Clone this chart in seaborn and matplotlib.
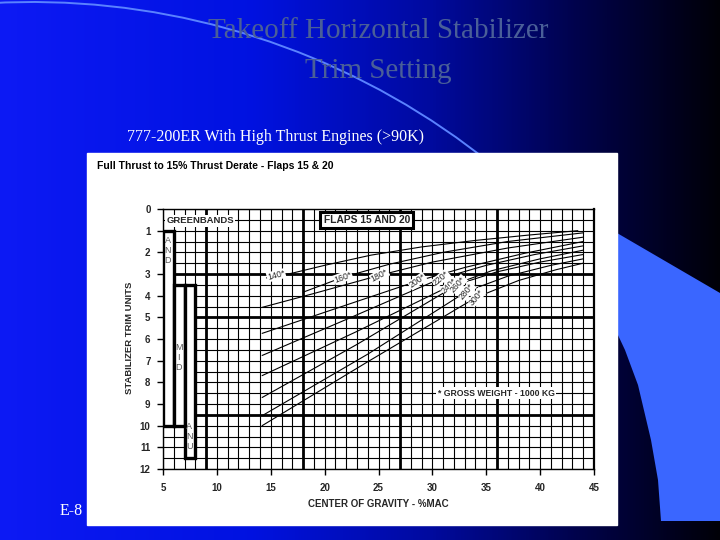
import numpy as np
import pandas as pd
import matplotlib
matplotlib.use("Agg")
import matplotlib.pyplot as plt
import seaborn as sns
from matplotlib.patches import Rectangle, Polygon, Arc
from matplotlib.colors import LinearSegmentedColormap

# ---------------- data ----------------
weights = [140, 160, 180, 200, 220, 240, 260, 280, 300]
cg_140 = [14.6, 17.0, 20.0, 24.3, 29.0, 34.0, 39.0, 43.5]
tr_140 = [3.18, 2.96, 2.60, 2.13, 1.75, 1.45, 1.20, 1.00]
cg_160 = [18.0, 21.7, 26.0, 31.0, 37.0, 44.0]
tr_160 = [3.84, 3.15, 2.55, 2.00, 1.50, 1.10]
cg_180 = [14.2, 19.0, 25.1, 30.0, 37.0, 44.0]
tr_180 = [4.54, 3.90, 3.06, 2.45, 1.80, 1.30]
cg_200 = [14.2, 21.0, 28.6, 33.0, 38.5, 44.0]
tr_200 = [5.74, 4.60, 3.33, 2.70, 2.05, 1.50]
cg_220 = [14.2, 22.0, 30.8, 35.0, 39.5, 44.0]
tr_220 = [6.76, 5.10, 3.20, 2.60, 2.10, 1.70]
cg_240 = [14.2, 23.0, 31.6, 35.5, 40.0, 44.0]
tr_240 = [7.69, 5.65, 3.56, 2.85, 2.30, 1.90]
cg_260 = [14.2, 23.0, 32.4, 36.0, 40.0, 44.0]
tr_260 = [8.70, 6.25, 3.47, 2.90, 2.45, 2.10]
cg_280 = [14.2, 24.0, 33.2, 37.0, 41.0, 44.0]
tr_280 = [9.54, 6.70, 3.80, 3.10, 2.60, 2.30]
cg_300 = [14.2, 24.0, 34.1, 38.0, 41.5, 44.0]
tr_300 = [10.00, 7.05, 4.07, 3.30, 2.80, 2.50]

label_x = [15.5, 21.7, 25.1, 28.6, 30.8, 31.6, 32.4, 33.2, 34.1]
label_y = [3.06, 3.15, 3.06, 3.33, 3.20, 3.56, 3.47, 3.80, 4.07]
label_rot = [15, 20, 28, 35, 40, 45, 48, 50, 50]
label_txt = ["140*", "160*", "180*", "200*", "220*", "240*", "260*", "280*", "300*"]

x_ticks = [5, 10, 15, 20, 25, 30, 35, 40, 45]
y_ticks = list(range(0, 13))
thick_x = [9, 18, 27, 36]
thick_y = [3, 5, 9.5]

band_names = ["AND", "MID", "ANU"]
band_x = [5, 6, 7]
band_top = [1.0, 3.5, 3.5]
band_bot = [10.0, 10.0, 11.5]
band_letter_y = [1.45, 6.4, 10.05]

cgs = [cg_140, cg_160, cg_180, cg_200, cg_220, cg_240, cg_260, cg_280, cg_300]
trs = [tr_140, tr_160, tr_180, tr_200, tr_220, tr_240, tr_260, tr_280, tr_300]
df = pd.concat([pd.DataFrame({"cg": c, "trim": t, "weight": w})
                for c, t, w in zip(cgs, trs, weights)], ignore_index=True)

# ---------------- style ----------------
sns.set_theme(style="white")
plt.rcParams["font.family"] = ["Liberation Sans", "DejaVu Sans"]
SANS = ["Liberation Sans", "DejaVu Sans"]
SERIF = ["Liberation Serif", "DejaVu Serif"]

fig = plt.figure(figsize=(7.2, 5.4), dpi=100)

# background slide
bg = fig.add_axes([0, 0, 1, 1])
bg.set_xlim(0, 720)
bg.set_ylim(540, 0)
bg.axis("off")
cmap = LinearSegmentedColormap.from_list("slide", [
    (0.00, (0.05, 0.10, 0.96)),
    (0.35, (0.00, 0.07, 0.88)),
    (0.60, (0.00, 0.04, 0.62)),
    (0.80, (0.00, 0.01, 0.30)),
    (1.00, (0.00, 0.00, 0.03)),
])
grad = np.linspace(0, 1, 512).reshape(1, -1)
bg.imshow(grad, cmap=cmap, extent=(0, 720, 540, 0), aspect="auto", zorder=0)
# thin light arc
bg.add_patch(Arc((32, 734), 1464, 1464, theta1=255, theta2=330, color="#5a82ff", lw=1.4, zorder=1))
# light-blue shape at right
bg.add_patch(Polygon([(617, 233), (720, 293), (720, 521), (661, 521), (658, 480), (651, 440),
                      (638, 385), (625, 350), (617, 333)], closed=True, color="#3a66ff", lw=0, zorder=1))
# white chart panel
bg.add_patch(Rectangle((87, 153), 530, 372, color="white", zorder=2))

bg.text(378, 31, "Takeoff Horizontal Stabilizer", family=SERIF, fontsize=21, color="#4a5f98",
        ha="center", va="center", zorder=3)
bg.text(378, 71, "Trim Setting", family=SERIF, fontsize=21, color="#4a5f98",
        ha="center", va="center", zorder=3)
bg.text(127, 137, "777-200ER With High Thrust Engines (>90K)", family=SERIF, fontsize=11.5,
        color="white", ha="left", va="center", zorder=3)
bg.text(60, 511, "E-8", family=SERIF, fontsize=11.5, color="white", ha="left", va="center", zorder=3)
bg.text(97, 166, "Full Thrust to 15% Thrust Derate - Flaps 15 & 20", family=SANS, fontsize=7.5,
        fontweight="bold", color="black", ha="left", va="center", zorder=3)
bg.text(130, 338, "STABILIZER TRIM UNITS", family=SANS, fontsize=6.8, fontweight="bold",
        rotation=90, ha="center", va="center", zorder=3)
bg.text(378, 504, "CENTER OF GRAVITY - %MAC", family=SANS, fontsize=7, fontweight="bold",
        ha="center", va="center", zorder=3)

# chart axes
ax = fig.add_axes([163 / 720, 1 - 469 / 540, 431 / 720, 260 / 540])
ax.set_facecolor("white")
ax.set_xlim(5, 45)
ax.set_ylim(12, 0)
ax.set_xticks(x_ticks)
ax.set_xticks(np.arange(5, 46, 1), minor=True)
ax.set_yticks(y_ticks)
ax.set_yticks(np.arange(0, 12.01, 0.5), minor=True)
ax.grid(which="both", color="black", lw=0.8)
ax.set_axisbelow(True)
for s in ax.spines.values():
    s.set_color("black")
    s.set_linewidth(1.0)
ax.spines["right"].set_linewidth(1.6)
ax.tick_params(which="minor", length=0)
ax.tick_params(axis="x", which="major", length=4, width=1, color="black", pad=6, labelsize=7, bottom=True)
ax.tick_params(axis="y", which="major", length=4, width=1, color="black", pad=5, labelsize=7, left=True)
for lab in ax.get_xticklabels() + ax.get_yticklabels():
    lab.set_fontweight("bold")
for xv in thick_x:
    ax.axvline(xv, color="black", lw=2.0, zorder=1)
for yv in thick_y:
    ax.axhline(yv, color="black", lw=2.0, zorder=1)

sns.lineplot(data=df, x="cg", y="trim", units="weight", estimator=None, sort=False,
             color="black", lw=0.8, ax=ax, legend=False, zorder=4)
ax.set_xlabel("")
ax.set_ylabel("")

for name, x0, t, b, ly in zip(band_names, band_x, band_top, band_bot, band_letter_y):
    ax.add_patch(Rectangle((x0, t), 1, b - t, facecolor="white", edgecolor="black", lw=2.4, zorder=5))
    for i, ch in enumerate(name):
        ax.text(x0 + 0.45, ly + i * 0.46, ch, fontsize=6.5, color="#555555", ha="center",
                va="center", zorder=6)

ax.text(5.3, 0.55, "GREENBANDS", fontsize=6.8, fontweight="bold", ha="left", va="center", zorder=6,
        bbox=dict(facecolor="white", edgecolor="none", pad=1.0))
ax.text(23.9, 0.52, "FLAPS 15 AND 20", fontsize=7.4, fontweight="bold", ha="center", va="center", zorder=6,
        bbox=dict(facecolor="white", edgecolor="black", lw=2.2, pad=2.3))
ax.text(35.9, 8.5, "* GROSS WEIGHT - 1000 KG", fontsize=6.2, fontweight="bold", ha="center", va="center",
        zorder=6, bbox=dict(facecolor="white", edgecolor="none", pad=1.0))
for lx, ly, r, t in zip(label_x, label_y, label_rot, label_txt):
    ax.text(lx, ly, t, fontsize=6.3, rotation=r, ha="center", va="center", rotation_mode="anchor",
            zorder=6, bbox=dict(facecolor="white", edgecolor="none", pad=0.3))

fig.savefig("out.png", dpi=100)
